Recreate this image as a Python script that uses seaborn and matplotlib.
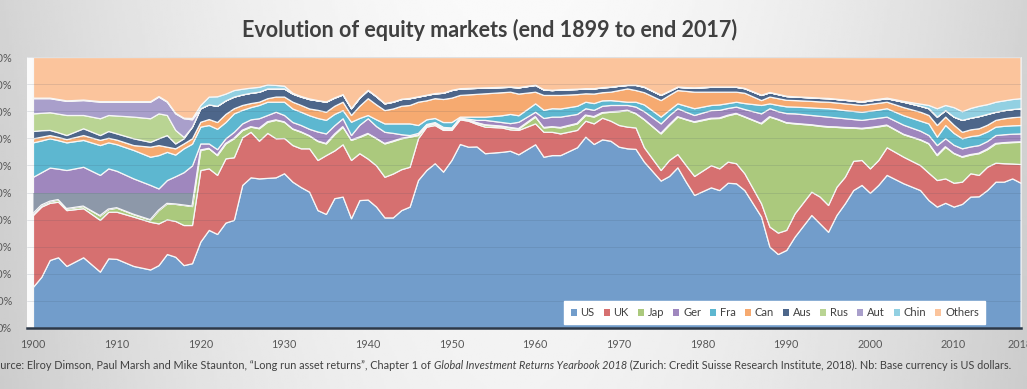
import numpy as np
import matplotlib
matplotlib.use("Agg")
import matplotlib.pyplot as plt
from matplotlib.patches import Patch
import seaborn as sns

# x follows the source axis labels: "1900" = end of 1899 ... "2018" = end of 2017
years = [1900, 1901, 1902, 1903, 1904, 1906, 1908, 1909, 1910, 1912, 1914, 1915, 1916, 1917, 1918, 1919,
         1920, 1921, 1922, 1923, 1924, 1925, 1926, 1927, 1928, 1929, 1930, 1931, 1932, 1933, 1934, 1935,
         1936, 1937, 1938, 1939, 1940, 1941, 1942, 1943, 1944, 1945, 1946,
         1947, 1948, 1949, 1950, 1951, 1952, 1953, 1954,
         1956, 1957, 1958,
         1960, 1961, 1962, 1963,
         1965, 1966, 1967, 1968, 1969, 1970, 1971, 1972, 1973,
         1975, 1976, 1977, 1978, 1979,
         1981, 1982, 1983, 1984, 1985,
         1987, 1988, 1989, 1990, 1991,
         1993, 1994, 1995, 1996, 1997, 1998, 1999, 2000, 2001, 2002,
         2004,
         2006, 2007, 2008, 2009, 2010, 2011, 2012, 2013, 2014, 2015, 2016, 2017, 2018]

# share of world equity market, %
us = [15.2, 18.9, 25.1, 26.1, 22.9, 26.1, 20.8, 25.7, 25.5, 22.9, 21.6, 23.2, 27.3, 26.3, 23.2, 23.9,
      31.9, 36.2, 34.7, 38.9, 39.9, 52.8, 55.6, 55.2, 55.4, 55.6, 57.1, 54.0, 52.0, 50.3, 43.5, 42.1,
      47.9, 48.5, 40.5, 47.2, 47.4, 44.8, 40.8, 40.8, 43.5, 44.8, 54.6,
      58.3, 60.8, 57.7, 62.0, 67.9, 66.9, 67.0, 64.5,
      65.0, 65.4, 64.1,
      67.8, 63.2, 63.8, 63.8,
      66.7, 70.6, 67.9, 69.6, 69.1, 66.9, 66.3, 66.1, 61.4,
      54.4, 56.1, 59.3, 54.0, 49.1,
      51.9, 50.9, 53.6, 53.4, 50.9,
      41.1, 30.0, 27.3, 28.8, 33.7,
      41.7, 38.6, 35.5, 41.7, 46.0, 50.9, 52.8, 49.9, 52.8, 56.5,
      53.4,
      50.9, 47.2, 44.8, 46.2, 44.8, 45.8, 48.5, 48.6, 50.9, 54.0, 54.0, 55.2, 53.6]
uk = [26.5, 25.9, 21.1, 20.5, 20.6, 18.1, 19.1, 17.2, 17.4, 18.2, 17.6, 15.4, 12.8, 13.2, 14.8, 14.1,
      26.4, 22.7, 21.8, 23.7, 23.1, 17.6, 16.8, 13.9, 16.6, 14.4, 13.0, 13.5, 14.3, 16.0, 18.5, 21.7,
      17.6, 19.3, 21.5, 17.3, 15.1, 15.2, 15.0, 16.2, 15.1, 14.7, 15.4,
      16.0, 14.1, 15.4, 11.1, 9.1, 9.6, 8.3, 9.8,
      9.0, 7.9, 9.0,
      7.7, 9.2, 8.6, 8.0,
      6.4, 5.9, 7.6, 8.0, 7.4, 8.0, 8.0, 7.9, 5.3,
      3.9, 5.9, 4.9, 6.1, 7.0,
      8.2, 8.0, 7.8, 7.4, 6.2,
      4.9, 7.4, 7.9, 7.4, 8.6,
      8.6, 9.9, 9.9, 10.4, 9.8, 10.8, 9.2, 9.0, 9.2, 10.2,
      9.8,
      9.2, 10.1, 9.8, 9.0, 8.8, 8.2, 8.6, 7.9, 8.6, 7.0, 6.8, 5.5, 6.9]
jap = [0.6, 0.6, 0.6, 0.8, 0.6, 0.8, 1.6, 1.0, 1.5, 0.9, 0.8, 4.9, 5.9, 6.3, 7.4, 7.0,
       7.4, 7.4, 7.3, 5.5, 7.0, 2.6, 1.9, 4.6, 4.1, 6.8, 6.0, 6.0, 6.1, 4.7, 7.0, 4.3,
       6.0, 6.5, 7.4, 6.0, 9.3, 10.0, 12.3, 12.0, 11.4, 11.1, 1.2,
       0.5, 0.6, 0.5, 0.5, 0.3, 0.3, 0.5, 0.7,
       0.5, 0.7, 0.5,
       2.5, 1.6, 1.9, 2.2,
       2.4, 2.1, 2.5, 1.9, 3.3, 5.1, 6.1, 5.2, 10.3,
       13.5, 13.0, 13.8, 16.9, 20.0,
       17.3, 18.6, 17.1, 18.4, 20.9,
       29.5, 40.6, 41.8, 39.6, 33.2,
       24.7, 26.1, 28.9, 22.1, 18.2, 12.2, 11.7, 15.1, 12.4, 8.2,
       8.3,
       9.4, 10.8, 9.2, 11.7, 10.9, 9.2, 6.9, 8.0, 6.5, 7.1, 7.6, 7.9, 8.2]
ger = [13.5, 12.1, 12.4, 11.4, 14.2, 14.5, 15.0, 15.0, 13.6, 13.2, 12.8, 8.0, 8.6, 10.2, 12.1, 15.0,
       2.4, 1.8, 2.2, 1.9, 2.4, 2.5, 2.7, 3.7, 2.5, 3.0, 2.5, 2.5, 2.5, 2.5, 3.5, 3.7,
       3.3, 3.1, 1.8, 4.5, 5.6, 4.5, 4.3, 3.0, 1.5, 0.6, 0.8,
       0.5, 0.5, 0.6, 0.4, 0.3, 0.4, 1.0, 1.8,
       1.5, 1.6, 2.5,
       1.8, 3.5, 3.7, 4.0,
       3.5, 2.5, 2.5, 2.5, 2.5, 2.3, 1.9, 2.5, 3.0,
       3.7, 3.5, 3.1, 2.8, 2.5,
       3.0, 3.0, 2.7, 2.5, 2.8,
       3.7, 3.1, 3.0, 3.5, 3.7,
       3.6, 3.7, 3.7, 3.5, 3.4, 3.2, 3.1, 3.2, 3.2, 3.1,
       3.5,
       3.3, 3.1, 3.7, 3.1, 3.1, 3.1, 3.0, 3.0, 3.0, 3.1, 3.1, 3.1, 3.1]
fra = [12.7, 11.7, 10.8, 10.5, 10.2, 9.9, 11.0, 9.6, 9.8, 10.5, 10.4, 12.3, 10.4, 8.0, 8.8, 8.0,
       6.2, 6.8, 7.5, 6.0, 6.8, 5.0, 4.5, 4.9, 4.9, 3.7, 4.9, 5.0, 4.9, 5.0, 5.0, 5.0,
       4.2, 3.0, 4.9, 2.5, 1.2, 2.5, 3.1, 3.5, 4.0, 4.3, 2.9,
       1.7, 1.5, 1.8, 2.0, 0.4, 0.8, 1.2, 1.2,
       2.5, 3.4, 2.4,
       3.1, 3.0, 3.1, 3.0,
       3.0, 2.4, 2.5, 2.0, 1.8, 1.5, 1.2, 1.8, 2.5,
       2.5, 2.0, 1.8, 2.2, 2.5,
       1.9, 2.0, 1.8, 1.8, 2.2,
       3.1, 1.8, 2.3, 2.5, 2.5,
       2.8, 2.9, 3.1, 3.1, 3.0, 3.0, 3.0, 3.0, 3.0, 3.1,
       3.5,
       3.7, 4.3, 3.1, 4.9, 4.4, 3.7, 3.8, 3.7, 3.5, 3.1, 3.1, 3.1, 3.1]
can = [1.5, 1.4, 1.2, 1.2, 1.2, 1.8, 1.9, 1.7, 1.7, 1.8, 3.7, 3.7, 1.9, 2.3, 1.8, 2.0,
       1.8, 2.2, 2.5, 3.0, 1.9, 1.8, 1.5, 1.2, 1.3, 1.9, 1.9, 2.5, 2.5, 2.5, 3.0, 3.0,
       3.0, 3.1, 2.5, 4.5, 6.2, 5.5, 4.9, 5.5, 6.5, 6.8, 8.6,
       7.0, 7.3, 8.5, 9.0, 8.0, 8.2, 8.4, 8.6,
       8.5, 8.2, 8.0,
       4.3, 5.5, 4.9, 5.0,
       4.3, 3.1, 3.5, 3.0, 3.1, 4.0, 4.9, 4.3, 4.5,
       6.1, 5.5, 4.9, 5.5, 6.1,
       4.9, 4.7, 4.2, 3.7, 3.8,
       1.8, 2.5, 2.5, 2.4, 2.4,
       2.4, 2.4, 2.4, 2.4, 2.5, 2.5, 2.5, 2.5, 2.5, 2.4,
       3.0,
       3.3, 3.1, 4.3, 3.1, 3.0, 2.4, 2.5, 2.5, 2.5, 2.5, 2.8, 3.0, 3.1]
aus = [2.7, 2.4, 1.9, 1.7, 1.5, 2.5, 1.8, 2.5, 2.3, 2.5, 1.8, 2.5, 4.3, 1.8, 1.9, 4.3,
       5.0, 5.4, 6.0, 5.0, 4.3, 3.9, 3.8, 3.7, 3.6, 3.0, 3.0, 3.0, 3.1, 3.5, 3.5, 3.7,
       3.0, 2.7, 2.5, 3.0, 3.0, 3.0, 2.5, 2.5, 2.5, 2.5, 1.9,
       2.0, 1.8, 2.3, 2.8, 2.4, 2.3, 2.2, 2.1,
       1.9, 1.8, 2.3,
       2.5, 2.0, 1.8, 2.0,
       1.9, 1.8, 1.9, 1.8, 1.8, 1.6, 1.3, 1.9, 2.0,
       1.9, 1.5, 1.2, 1.3, 1.5,
       1.8, 1.8, 1.8, 1.8, 1.7,
       1.9, 1.6, 1.5, 1.4, 1.3,
       1.3, 1.3, 1.3, 1.3, 1.3, 1.3, 1.2, 1.3, 1.3, 1.3,
       2.0,
       2.2, 2.5, 3.1, 2.4, 3.0, 4.4, 4.3, 4.5, 4.0, 3.0, 3.0, 3.0, 3.1]
rus = [6.5, 6.4, 6.5, 6.9, 7.4, 4.9, 6.2, 5.9, 6.6, 8.0, 8.7, 9.2, 7.4, 5.0, 0.5, 0.0] + [0.0] * 90
aut = [5.6, 5.4, 5.2, 5.2, 5.2, 5.5, 6.1, 4.9, 5.1, 5.5, 6.1, 6.2, 4.9, 6.1, 6.9, 2.7] + [0.0] * 90
chin = ([0.2] * 15 + [0.5]
        + [1.2, 2.9, 3.5, 2.5, 2.4, 2.1, 1.9, 1.8, 1.5, 1.3, 1.0, 0.3, 0.2, 0.2] + [0.1] * 13
        + [0.1] * 45 + [0.2] * 4 + [0.3]
        + [0.8, 1.2, 3.1, 1.9, 3.5, 3.2, 3.6, 3.8, 3.6, 3.7, 3.6, 3.7, 3.7])
others = [15.0, 15.0, 15.0, 15.5, 16.0, 15.7, 16.3, 16.3, 16.3, 16.3, 16.3, 14.4, 16.3, 20.6, 22.4, 22.5,
          17.7, 14.6, 14.5, 13.5, 12.2, 11.7, 11.3, 11.0, 10.1, 10.3, 10.6, 13.2, 14.4, 15.3, 15.9, 16.4,
          14.9, 13.7, 18.8, 14.9, 12.1, 14.4, 17.0, 16.4, 15.4, 15.1, 14.5,
          13.9, 13.3, 13.1, 12.1, 11.5, 11.4, 11.3, 11.2,
          11.0, 10.9, 11.1,
          10.2, 11.9, 12.1, 11.9,
          11.7, 11.5, 11.5, 11.1, 10.9, 10.5, 10.2, 10.2, 10.9,
          13.9, 12.4, 10.9, 11.1, 11.2,
          10.9, 10.9, 10.9, 10.9, 11.4,
          13.9, 12.9, 13.6, 14.3, 14.5,
          14.8, 15.0, 15.1, 15.4, 15.7, 16.0, 16.3, 15.8, 15.4, 15.0,
          16.2,
          17.2, 17.7, 18.9, 17.7, 18.5, 20.0, 18.8, 18.0, 17.4, 16.5, 16.0, 15.5, 15.2]

countries = ["US", "UK", "Jap", "Ger", "Fra", "Can", "Aus", "Rus", "Aut", "Chin", "Others"]
colors = ["#729dcb", "#d67070", "#abc97d", "#9f87be", "#5db7d0", "#f6aa70",
          "#4d668a", "#b9d493", "#a99fcb", "#92d0e2", "#fbc49c"]
ger_low_color = "#8d98a9"

series = np.array([us, uk, jap, ger, fra, can, aus, rus, aut, chin, others], dtype=float)
shares = series / series.sum(axis=0) * 100  # 100% stacked

sns.set_theme(style="white")
plt.rcParams["font.family"] = ["Lato", "DejaVu Sans"]

W, H = 1027, 389
fig = plt.figure(figsize=(W / 100, H / 100), dpi=100)

# soft grey backdrop like the slide it was cut from
bg = fig.add_axes([0, 0, 1, 1], zorder=-10)
gx, gy = np.meshgrid(np.linspace(-1, 1, 400), np.linspace(0, 1, 160))
shade = 0.80 + 0.15 * (1 - np.abs(gx) ** 1.8) + 0.03 * gy
bg.imshow(shade, cmap="gray", vmin=0, vmax=1, aspect="auto", extent=[0, 1, 0, 1], origin="lower")
bg.axis("off")

ax = fig.add_axes([26.7 / W, (H - 328) / H, (1021 - 26.7) / W, (328 - 57) / H])
ax.set_facecolor("#fbfbfb")
ax.stackplot(years, shares, colors=colors, edgecolor="#f7f7f7", linewidth=0.9)

# the part of the German band below the 50% line shows up grey in the source
cum = np.cumsum(shares, axis=0)
low, top = cum[2], np.minimum(cum[3], 50)
ax.fill_between(years, low, top, where=top > low, interpolate=True,
                color=ger_low_color, linewidth=0, zorder=1.5)
ax.plot(years, low, color="#f7f7f7", linewidth=0.9, zorder=1.6)

ax.set_xlim(1899.25, 2018.05)
ax.set_ylim(0, 100)
ax.set_yticks(range(0, 101, 10))
ax.set_yticklabels([f"{v}%" for v in range(0, 101, 10)])
xt = list(range(1900, 2011, 10)) + [2018]
ax.set_xticks(xt)
ax.set_xticklabels([str(v) for v in xt])
ax.tick_params(axis="y", length=3, width=0.8, color="#bfbfbf", pad=7.5,
               labelsize=7.8, labelcolor="#595959")
ax.tick_params(axis="x", length=0, pad=8, labelsize=7.8, labelcolor="#595959")
ax.grid(axis="y", color="#3c4b60", alpha=0.16, linewidth=0.6)
ax.grid(axis="x", visible=False)
ax.set_axisbelow(False)
for side in ["left", "top", "right"]:
    ax.spines[side].set_visible(False)
ax.spines["bottom"].set_color("#2c3848")
ax.spines["bottom"].set_linewidth(1.8)

handles = [Patch(facecolor=c, edgecolor="none") for c in colors]
leg = ax.legend(handles, countries, loc="lower right", bbox_to_anchor=(0.9638, 0.013),
                ncol=11, frameon=True, fancybox=False, fontsize=8,
                handlelength=0.55, handleheight=0.55, handletextpad=0.35,
                columnspacing=0.8, borderpad=0.55, borderaxespad=0)
leg.get_frame().set_facecolor("white")
leg.get_frame().set_edgecolor("white")
leg.get_frame().set_alpha(1)
for t in leg.get_texts():
    t.set_color("#404040")

fig.text(490 / W, 1 - 30 / H, "Evolution of equity markets (end 1899 to end 2017)",
         ha="center", va="center", fontsize=15.5, fontweight="bold", color="#404040")

src_kw = dict(fontsize=7.8, color="#404040")
t1 = fig.text(-12 / W, 1 - 371 / H,
              "Source: Elroy Dimson, Paul Marsh and Mike Staunton, \u201cLong run asset returns\u201d, Chapter 1 of ",
              ha="left", va="bottom", **src_kw)
t2 = ax.annotate("Global Investment Returns Yearbook 2018", xy=(1, 0), xycoords=t1,
                 ha="left", va="bottom", style="italic", annotation_clip=False, **src_kw)
ax.annotate(" (Zurich: Credit Suisse Research Institute, 2018). Nb: Base currency is US dollars.",
            xy=(1, 0), xycoords=t2, ha="left", va="bottom", annotation_clip=False, **src_kw)

fig.savefig("out.png", dpi=100)
